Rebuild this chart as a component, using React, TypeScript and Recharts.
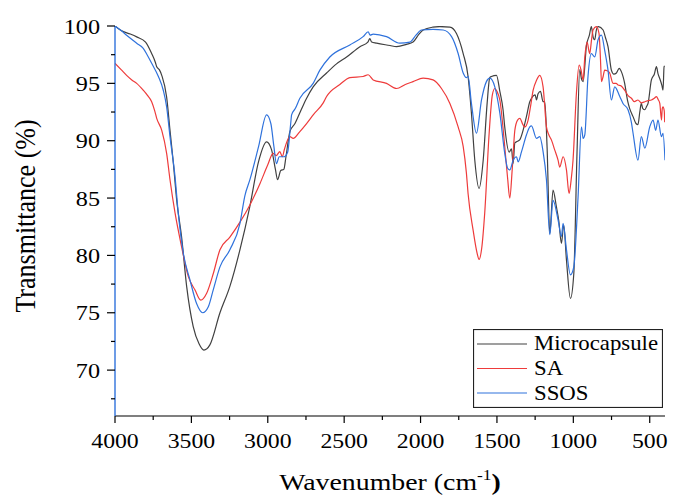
import { LineChart, Line, XAxis, YAxis, Legend } from 'recharts';

const FONT = '"Liberation Serif", "Times New Roman", serif';
const STRETCH = 1.08;

// wavenumber (cm-1) / transmittance (%)
const microWn = [4000, 3960, 3900, 3858, 3800, 3760, 3735, 3727, 3710, 3694, 3662, 3640, 3618, 3596, 3564, 3531, 3488, 3450, 3418, 3379, 3313, 3248, 3182, 3117, 3060, 3008, 2975, 2950, 2936, 2915, 2895, 2881, 2855, 2822, 2801, 2750, 2703, 2615, 2550, 2484, 2397, 2345, 2332, 2320, 2288, 2200, 2157, 2092, 2049, 2010, 1983, 1920, 1874, 1808, 1765, 1721, 1689, 1667, 1645, 1617, 1590, 1564, 1547, 1536, 1503, 1481, 1460, 1449, 1420, 1405, 1394, 1383, 1372, 1350, 1329, 1307, 1285, 1274, 1250, 1241, 1231, 1215, 1198, 1187, 1172, 1154, 1133, 1111, 1095, 1078, 1063, 1045, 1019, 997, 976, 958, 947, 936, 914, 895, 882, 870, 860, 850, 838, 805, 790, 773, 751, 735, 718, 700, 685, 664, 645, 631, 609, 590, 577, 565, 555, 545, 532, 520, 511, 489, 470, 456, 445, 434, 420, 413, 406, 402];
const microT = [100, 99.6, 99.3, 99.05, 98.6, 97.6, 96.8, 96.45, 96.2, 95.7, 93.8, 90.9, 88.05, 84.8, 81.6, 77.3, 73.8, 72.3, 71.75, 72.2, 75.0, 77.3, 80.5, 84.3, 88.2, 89.9, 89.2, 87.5, 86.6, 87.4, 87.5, 88.6, 90.8, 91.5, 92.1, 93.6, 94.7, 95.9, 96.7, 97.3, 98.2, 98.6, 98.9, 98.6, 98.5, 98.3, 98.2, 98.4, 98.6, 99.3, 99.65, 99.9, 99.95, 99.9, 99.35, 97.6, 95.6, 92.4, 88.3, 85.85, 88.3, 93.3, 95.5, 95.6, 95.7, 94.3, 92.7, 91.2, 89.0, 89.3, 88.0, 89.8, 89.9, 90.1, 90.9, 92.1, 93.4, 93.7, 94.0, 93.55, 94.1, 94.3, 93.4, 93.4, 89.5, 81.9, 85.7, 84.25, 83.0, 81.05, 82.65, 79.6, 76.25, 78.4, 88.9, 96.2, 95.4, 95.15, 98.3, 99.2, 99.95, 99.0, 98.8, 99.6, 99.95, 99.65, 99.0, 98.2, 96.15, 95.8, 95.9, 96.3, 96.0, 95.0, 93.5, 92.8, 92.1, 91.5, 91.4, 92.5, 93.25, 92.8, 92.7, 93.0, 93.25, 95.3, 95.8, 96.45, 95.8, 95.4, 94.8, 94.4, 96.45, 96.5];

const saWn = [4000, 3960, 3924, 3890, 3858, 3815, 3790, 3760, 3740, 3727, 3694, 3662, 3640, 3607, 3564, 3520, 3477, 3439, 3400, 3357, 3313, 3248, 3182, 3117, 3050, 3000, 2965, 2945, 2921, 2905, 2890, 2855, 2834, 2790, 2746, 2700, 2637, 2615, 2528, 2463, 2376, 2343, 2310, 2223, 2157, 2100, 2049, 1983, 1918, 1863, 1808, 1754, 1721, 1700, 1689, 1656, 1630, 1617, 1600, 1580, 1551, 1530, 1514, 1500, 1481, 1449, 1430, 1416, 1400, 1383, 1365, 1350, 1330, 1318, 1296, 1280, 1263, 1240, 1220, 1198, 1176, 1160, 1143, 1122, 1100, 1089, 1067, 1045, 1028, 1015, 1002, 980, 962, 950, 936, 925, 910, 893, 880, 871, 849, 832, 822, 816, 805, 795, 778, 762, 740, 720, 707, 690, 664, 640, 620, 600, 577, 555, 532, 510, 489, 470, 456, 445, 434, 423, 418, 413, 405, 402];
const saT = [96.75, 96.2, 95.7, 95.3, 95.0, 94.4, 94.0, 93.4, 92.6, 91.95, 90.9, 88.9, 86.6, 83.7, 80.75, 78.15, 77.0, 76.1, 76.7, 78.4, 80.5, 81.6, 82.9, 84.4, 86.3, 87.9, 88.9, 88.7, 89.05, 88.6, 89.3, 90.35, 90.2, 90.8, 91.5, 92.3, 93.3, 93.85, 94.9, 95.5, 95.6, 95.75, 95.3, 95.0, 94.55, 94.9, 95.15, 95.45, 95.3, 94.55, 93.25, 91.2, 89.5, 87.2, 85.4, 82.2, 80.2, 79.65, 80.6, 83.7, 90.65, 94.0, 94.55, 94.3, 93.55, 89.5, 86.7, 85.0, 87.5, 90.9, 91.8, 91.95, 91.4, 91.2, 91.8, 93.0, 94.4, 95.3, 95.7, 94.7, 91.2, 90.5, 90.05, 89.2, 88.3, 87.7, 88.6, 87.45, 85.4, 86.5, 88.3, 94.1, 96.6, 96.2, 95.3, 97.3, 98.6, 97.6, 98.9, 99.65, 99.95, 99.35, 97.0, 95.15, 95.6, 96.15, 96.1, 95.9, 95.0, 95.0, 94.85, 94.8, 94.4, 93.9, 93.7, 93.4, 93.55, 93.3, 93.4, 93.5, 93.55, 93.7, 93.85, 93.6, 93.25, 91.8, 92.8, 92.95, 92.6, 91.6];

const ssosWn = [4000, 3960, 3924, 3858, 3815, 3790, 3760, 3716, 3684, 3662, 3640, 3607, 3586, 3553, 3509, 3466, 3426, 3390, 3357, 3313, 3248, 3182, 3150, 3117, 3060, 3008, 2980, 2960, 2943, 2925, 2895, 2870, 2850, 2844, 2820, 2790, 2703, 2659, 2594, 2463, 2376, 2343, 2330, 2310, 2223, 2136, 2070, 2030, 1994, 1918, 1852, 1797, 1754, 1721, 1700, 1689, 1667, 1634, 1601, 1569, 1547, 1514, 1481, 1449, 1430, 1416, 1394, 1372, 1361, 1339, 1307, 1285, 1274, 1241, 1220, 1198, 1176, 1154, 1133, 1100, 1078, 1067, 1045, 1019, 997, 969, 947, 936, 925, 904, 882, 860, 838, 816, 795, 773, 751, 729, 696, 675, 642, 620, 609, 577, 555, 532, 500, 478, 461, 446, 423, 413, 400];
const ssosT = [100, 99.6, 99.2, 98.5, 98.05, 97.5, 96.75, 95.6, 94.4, 92.95, 90.35, 86.85, 83.7, 80.2, 77.85, 75.8, 75.0, 75.5, 77.0, 79.0, 80.5, 82.8, 85.2, 86.6, 89.5, 92.25, 91.5, 89.5, 88.0, 88.6, 88.6, 89.0, 91.5, 92.25, 92.8, 93.7, 95.0, 96.15, 97.3, 98.35, 99.07, 99.5, 99.2, 99.3, 99.07, 98.5, 98.6, 99.2, 99.65, 99.7, 99.65, 99.07, 97.6, 95.9, 95.5, 95.6, 93.25, 90.65, 93.55, 95.15, 95.45, 94.7, 92.4, 88.9, 87.6, 87.45, 88.3, 88.6, 88.15, 89.05, 90.5, 91.2, 91.3, 90.2, 90.35, 89.05, 86.6, 81.8, 84.8, 83.1, 81.65, 82.8, 80.5, 78.3, 79.0, 85.1, 91.2, 90.2, 90.5, 95.6, 97.6, 97.3, 98.8, 99.2, 97.9, 96.15, 93.55, 94.7, 93.85, 93.25, 92.7, 91.6, 90.65, 88.3, 90.35, 89.35, 91.2, 91.8, 90.9, 91.8, 90.35, 90.65, 88.3];

const xTicks = [4000, 3750, 3500, 3250, 3000, 2750, 2500, 2250, 2000, 1750, 1500, 1250, 1000, 750, 500];
const yTicks = [67.5, 70, 72.5, 75, 77.5, 80, 82.5, 85, 87.5, 90, 92.5, 95, 97.5, 100];

const seriesNames = ['Microcapsule', 'SA', 'SSOS'];
const seriesColors = ['#404040', '#ee3b3b', '#2f72dc'];

const toPoints = (wn: number[], t: number[]) => wn.map((w, i) => ({ w, t: t[i] }));
const seriesData = [toPoints(microWn, microT), toPoints(saWn, saT), toPoints(ssosWn, ssosT)];

const XTick = (props: any) => {
  const { x, y, payload } = props;
  const major = payload.value % 500 === 0;
  return (
    <g>
      <line x1={x} x2={x} y1={y} y2={y + (major ? 7 : 4)} stroke="#000" strokeWidth={1.2} />
      {major && (
        <text transform={`translate(${x},${y + 32}) scale(${STRETCH},1)`} textAnchor="middle" fontSize={22} fontFamily={FONT} fill="#000">
          {payload.value}
        </text>
      )}
    </g>
  );
};

const YTick = (props: any) => {
  const { x, y, payload } = props;
  const major = payload.value % 5 === 0;
  return (
    <g>
      <line x1={x - (major ? 8 : 4)} x2={x} y1={y} y2={y} stroke="#000" strokeWidth={1.2} />
      {major && (
        <text transform={`translate(${x - 15},${y + 7.5}) scale(1.1,1)`} textAnchor="end" fontSize={22} fontFamily={FONT} fill="#000">
          {payload.value}
        </text>
      )}
    </g>
  );
};

const YLabel = (props: any) => {
  const { viewBox } = props;
  const cx = viewBox.x + 35;
  const cy = viewBox.y + viewBox.height / 2 - 5;
  return (
    <text transform={`translate(${cx},${cy}) rotate(-90) scale(1,1.12)`} textAnchor="middle" fontSize={26} fontFamily={FONT} fill="#000">
      Transmittance (%)
    </text>
  );
};

const XLabel = (props: any) => {
  const { viewBox } = props;
  const cx = viewBox.x + viewBox.width / 2;
  const cy = viewBox.y + 74;
  return (
    <text transform={`translate(${cx},${cy}) scale(1.16,1)`} textAnchor="middle" fontSize={24} fontFamily={FONT} fill="#000">
      <tspan>Wavenumber (cm</tspan>
      <tspan dy={-10} fontSize={15}>-1</tspan>
      <tspan dy={10} fontWeight="bold">)</tspan>
    </text>
  );
};

const LegendBox = () => (
  <svg width={190} height={79} style={{ display: 'block' }}>
    <rect x={0.5} y={0.5} width={189} height={78} fill="#fff" stroke="#222" strokeWidth={1.2} />
    {seriesNames.map((name, i) => (
      <g key={name}>
        <line x1={4} x2={54} y1={15 + i * 24.5} y2={15 + i * 24.5} stroke={seriesColors[i]} strokeWidth={1.2} />
        <text transform={`translate(61,${21 + i * 25}) scale(1.14,1)`} fontSize={20} fontFamily={FONT} fill="#000">
          {name}
        </text>
      </g>
    ))}
  </svg>
);

export default function App() {
  return (
    <>
      <style>{'html, body { margin: 0; padding: 0; overflow: hidden; }'}</style>
      <LineChart width={673} height={495} margin={{ top: 26, right: 8, bottom: 0, left: 0 }}>
        <XAxis
          dataKey="w"
          type="number"
          domain={[400, 4000]}
          reversed
          allowDataOverflow
          ticks={xTicks}
          interval={0}
          height={79}
          tickSize={0}
          tickMargin={0}
          tickLine={false}
          tick={<XTick />}
          axisLine={{ stroke: '#000', strokeWidth: 1.2 }}
          label={<XLabel />}
        />
        <YAxis
          type="number"
          domain={[66, 100]}
          allowDataOverflow
          ticks={yTicks}
          interval={0}
          width={115}
          tickSize={0}
          tickMargin={0}
          tickLine={false}
          tick={<YTick />}
          axisLine={{ stroke: '#2f72dc', strokeWidth: 1.4 }}
          label={<YLabel />}
        />
        <Legend
          layout="horizontal"
          verticalAlign="middle"
          align="center"
          content={() => <LegendBox />}
          wrapperStyle={{ position: 'absolute', left: 473, top: 329, width: 190, height: 79 }}
        />
        {seriesData.map((d, i) => (
          <Line
            key={seriesNames[i]}
            data={d}
            dataKey="t"
            name={seriesNames[i]}
            type="monotone"
            stroke={seriesColors[i]}
            strokeWidth={1.2}
            dot={false}
            activeDot={false}
            isAnimationActive={false}
          />
        ))}
      </LineChart>
    </>
  );
}
